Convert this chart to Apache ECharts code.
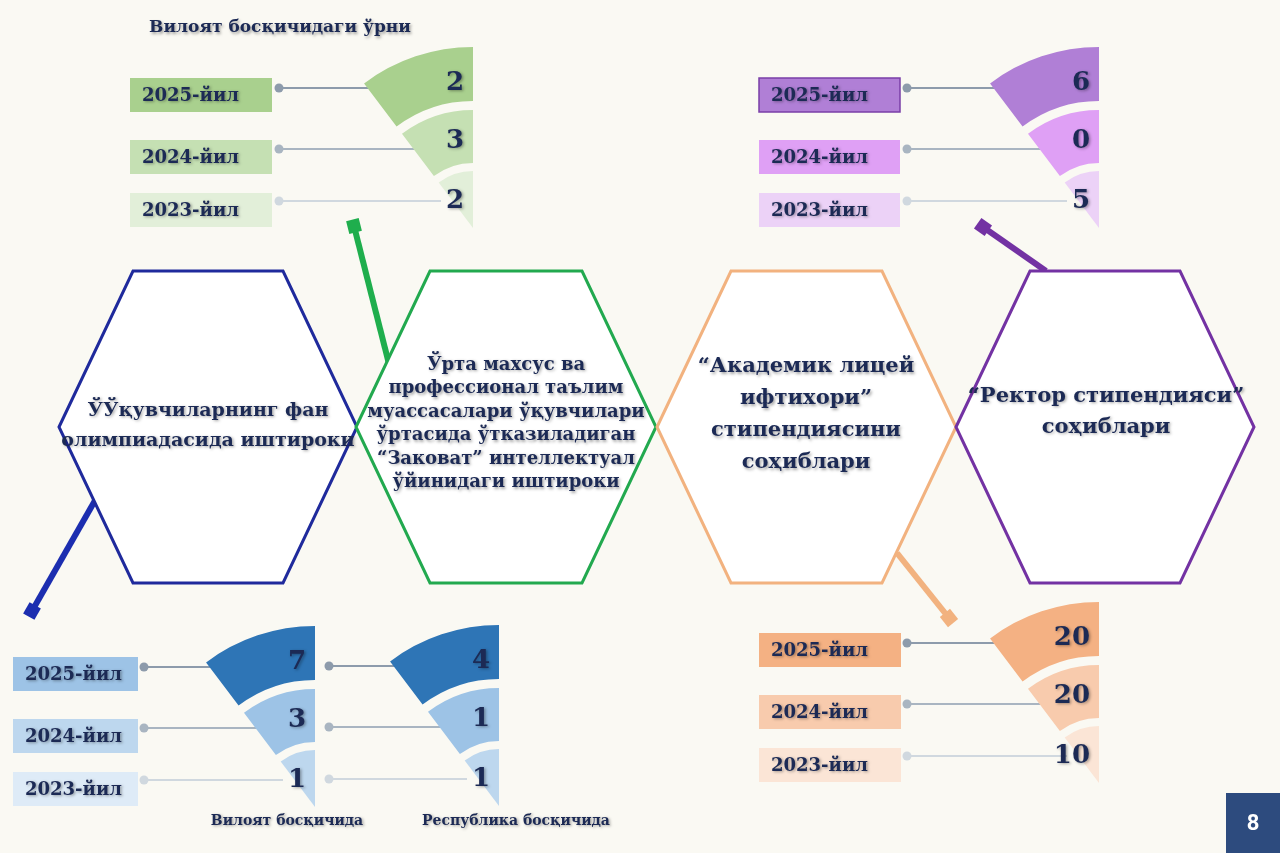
<!DOCTYPE html>
<html>
<head>
<meta charset="utf-8">
<script src="https://cdn.jsdelivr.net/npm/echarts@6/dist/echarts.min.js"></script>
<style>
  html, body { margin: 0; padding: 0; background: #faf9f3; }
  #chart { width: 1280px; height: 853px; }
</style>
</head>
<body>
<div id="chart"></div>
<script>
var years = ['2025-йил', '2024-йил', '2023-йил'];

// values shown on each fan, top to bottom (2025, 2024, 2023)
var zakovatPlaces = [2, 3, 2];
var rectorScholars = [6, 0, 5];
var olympRegion = [7, 3, 1];
var olympRepublic = [4, 1, 1];
var lyceumScholars = [20, 20, 10];

var hexTitles = [
  'ЎЎқувчиларнинг фан\nолимпиадасида иштироки',
  'Ўрта махсус ва\nпрофессионал таълим\nмуассасалари ўқувчилари\nўртасида ўтказиладиган\n“Заковат” интеллектуал\nўйинидаги иштироки',
  '“Академик лицей\nифтихори”\nстипендиясини\nсоҳиблари',
  '“Ректор стипендияси”\nсоҳиблари'
];
var stageTitles = ['Вилоят босқичидаги ўрни', 'Вилоят босқичида', 'Республика босқичида'];

var chartDom = document.getElementById('chart');
var myChart = echarts.init(chartDom);
var option;

var FONT = 'DejaVu Serif';
var INK = '#1c2a55';
var SHADOW = { textShadowColor: 'rgba(0,0,0,0.35)', textShadowBlur: 3, textShadowOffsetX: 1.5, textShadowOffsetY: 1.5 };
var RAD = Math.PI / 180;

// band geometry shared by every fan (relative to the fan apex)
var SPAN = 37; // degrees of each fan
var bandRadius = [[127, 181], [65, 118], [0, 57]];
var numberDy = [-145, -87, -27];
var dotDy = [-140, -79, -27];
var boxDy = [-133, -71, -18];
var lineColors = ['#8d9bab', '#a9b5c1', '#d0d8df'];

var fans = [
  { cx: 473, cy: 228, values: zakovatPlaces, dotDx: -194,
    colors: ['#a9d08e', '#c5e0b3', '#e2efd9'],
    box: { left: -343, width: 142, colors: ['#a9d08e', '#c5e0b3', '#e2efd9'] } },
  { cx: 1099, cy: 228, values: rectorScholars, dotDx: -192,
    colors: ['#b07fd6', '#dfa0f5', '#ecd2f7'],
    box: { left: -340, width: 141, colors: ['#b07fd6', '#dfa0f5', '#ecd2f7'], border: '#7a3fa8' } },
  { cx: 315, cy: 807, values: olympRegion, dotDx: -171,
    colors: ['#2e75b6', '#9dc3e6', '#bdd7ee'],
    box: { left: -302, width: 125, colors: ['#9dc3e6', '#bdd7ee', '#deebf7'] } },
  { cx: 499, cy: 806, values: olympRepublic, dotDx: -170,
    colors: ['#2e75b6', '#9dc3e6', '#bdd7ee'] },
  { cx: 1099, cy: 783, values: lyceumScholars, dotDx: -192,
    colors: ['#f4b183', '#f8cbad', '#fbe5d6'],
    box: { left: -340, width: 142, colors: ['#f4b183', '#f8cbad', '#fbe5d6'] } }
];

// one custom series per fan: band, value, leader line, dot and year box
function fanSeries(f) {
  return {
    type: 'custom',
    coordinateSystem: 'none',
    silent: true,
    data: f.values.map(function (v, i) { return [i, v]; }),
    renderItem: function (params, api) {
      var i = api.value(0);
      var v = api.value(1);
      var ly = f.cy + dotDy[i];
      var dotX = f.cx + f.dotDx;
      var lineEnd = i === 2 ? f.cx - 32 : f.cx - 45;
      var children = [
        { type: 'line', shape: { x1: dotX, y1: ly, x2: lineEnd, y2: ly },
          style: { stroke: lineColors[i], lineWidth: 2 } },
        { type: 'circle', shape: { cx: dotX, cy: ly, r: 4.5 }, style: { fill: lineColors[i] } },
        { type: 'sector',
          shape: { cx: f.cx, cy: f.cy, r0: bandRadius[i][0], r: bandRadius[i][1],
            startAngle: -(90 + SPAN) * RAD, endAngle: -90 * RAD, clockwise: true },
          style: { fill: f.colors[i] } },
        { type: 'text',
          style: Object.assign({ text: String(v), x: f.cx - 9, y: f.cy + numberDy[i],
            align: 'right', verticalAlign: 'middle',
            font: 'bold 26px "' + FONT + '"', fill: INK }, SHADOW) }
      ];
      if (f.box) {
        var bx = f.cx + f.box.left;
        var by = f.cy + boxDy[i];
        var rectStyle = { fill: f.box.colors[i] };
        if (i === 0 && f.box.border) {
          rectStyle.stroke = f.box.border;
          rectStyle.lineWidth = 1.5;
        }
        children.push({ type: 'rect', shape: { x: bx, y: by - 17, width: f.box.width, height: 34 }, style: rectStyle });
        children.push({ type: 'text',
          style: Object.assign({ text: years[i], x: bx + 12, y: by + 1, align: 'left', verticalAlign: 'middle',
            font: 'bold 18px "' + FONT + '"', fill: INK }, SHADOW) });
      }
      return { type: 'group', children: children };
    }
  };
}

var series = fans.map(fanSeries);

// decorative hexagons, connectors and captions
var hexes = [
  { l: 59, r: 357, color: '#1f2a9c', tx: 208, ty: 426, size: 19, lh: 30 },
  { l: 356, r: 656, color: '#22a94f', tx: 506, ty: 424, size: 18, lh: 23.5 },
  { l: 657, r: 956, color: '#f2b27f', tx: 806, ty: 415, size: 21, lh: 32 },
  { l: 956, r: 1254, color: '#7332a3', tx: 1106, ty: 412, size: 21, lh: 31 }
];
var graphics = [];
hexes.forEach(function (h, i) {
  graphics.push({
    type: 'polygon', z: 1,
    shape: { points: [[h.l, 427], [h.l + 74, 271], [h.r - 74, 271], [h.r, 427], [h.r - 74, 583], [h.l + 74, 583]] },
    style: { fill: '#ffffff', stroke: h.color, lineWidth: 3 }
  });
  graphics.push({
    type: 'text', z: 5,
    style: Object.assign({
      text: hexTitles[i], x: h.tx, y: h.ty, align: 'center', verticalAlign: 'middle',
      font: 'bold ' + h.size + 'px "' + FONT + '"', fill: INK, lineHeight: h.lh
    }, SHADOW)
  });
});

function stick(x1, y1, x2, y2, color) {
  var a = Math.atan2(y2 - y1, x2 - x1);
  var s = 6.5;
  var c = Math.cos(a), sn = Math.sin(a);
  var pts = [[-s, -s], [s, -s], [s, s], [-s, s]].map(function (p) {
    return [x2 + p[0] * c - p[1] * sn, y2 + p[0] * sn + p[1] * c];
  });
  graphics.push({ type: 'line', z: 0, shape: { x1: x1, y1: y1, x2: x2, y2: y2 }, style: { stroke: color, lineWidth: 6 } });
  graphics.push({ type: 'polygon', z: 0, shape: { points: pts }, style: { fill: color } });
}
stick(389, 364, 354, 226, '#1fae4d');
stick(97, 497, 32, 611, '#1c2eb0');
stick(1046, 271, 983, 227, '#7332a3');
stick(897, 553, 949, 618, '#f2b27f');

graphics.push({
  type: 'text', z: 5,
  style: Object.assign({ text: stageTitles[0], x: 280, y: 28, align: 'center', verticalAlign: 'middle',
    font: 'bold 17px "' + FONT + '"', fill: INK }, SHADOW)
});
graphics.push({
  type: 'text', z: 5,
  style: Object.assign({ text: stageTitles[1], x: 287, y: 821, align: 'center', verticalAlign: 'middle',
    font: 'bold 14px "' + FONT + '"', fill: INK }, SHADOW)
});
graphics.push({
  type: 'text', z: 5,
  style: Object.assign({ text: stageTitles[2], x: 516, y: 821, align: 'center', verticalAlign: 'middle',
    font: 'bold 14px "' + FONT + '"', fill: INK }, SHADOW)
});
graphics.push({ type: 'rect', z: 5, shape: { x: 1226, y: 793, width: 54, height: 60 }, style: { fill: '#2d4b7e' } });
graphics.push({
  type: 'text', z: 6,
  style: { text: '8', x: 1253, y: 824, align: 'center', verticalAlign: 'middle', font: 'bold 22px Roboto', fill: '#ffffff' }
});

option = {
  backgroundColor: '#faf9f3',
  animation: false,
  graphic: graphics,
  series: series
};

if (option && typeof option === 'object') {
  myChart.setOption(option);
}

window.onresize = function () {
  myChart.resize();
};
</script>
</body>
</html>
